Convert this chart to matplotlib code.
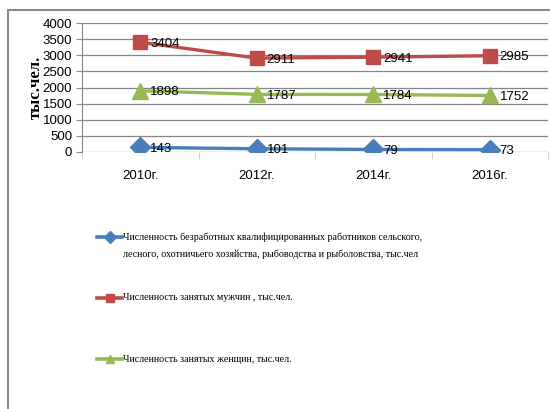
import matplotlib
matplotlib.use("Agg")
import matplotlib.pyplot as plt
from matplotlib.patches import Rectangle
from matplotlib.lines import Line2D
from matplotlib import font_manager
import numpy as np

# годы и значения рядов
years = ["2010г.", "2012г.", "2014г.", "2016г."]
unemployed = [143, 101, 79, 73]
men = [3404, 2911, 2941, 2985]
women = [1898, 1787, 1784, 1752]

labels = [
    "Численность безработных квалифицированных работников сельского,\n"
    "лесного, охотничьего хозяйства, рыбоводства и рыболовства, тыс.чел",
    "Численность занятых мужчин , тыс.чел.",
    "Численность занятых женщин, тыс.чел.",
]

blue = "#4a7ebb"
red = "#be4b48"
green = "#98b954"
grid_c = "#868686"

W, H = 550, 409

# узкий шрифт для подписей, если он есть
installed = {f.name for f in font_manager.fontManager.ttflist}
sans = ["Liberation Sans Narrow", "Liberation Sans", "DejaVu Sans"]
sans = [f for f in sans if f in installed] or ["DejaVu Sans"]
serif = ["Liberation Serif", "DejaVu Serif"]

plt.rcParams["font.family"] = sans

fig = plt.figure(figsize=(W / 100, H / 100), dpi=100)
ax = fig.add_axes([82 / W, 257 / H, 466 / W, 129 / H])

# рамка диаграммы
fig.patches.append(Rectangle((8 / W, -0.1), 1.2, 1.1 - 10 / H, transform=fig.transFigure,
                             fill=False, edgecolor="#8a8a8a", linewidth=1.5, zorder=0))

x = np.arange(len(years))
series = [
    (unemployed, blue, "D", 10),
    (men, red, "s", 10),
    (women, green, "^", 11),
]
handles = []
for vals, col, mk, ms in series:
    h, = ax.plot(x, vals, color=col, lw=2.4, marker=mk, markersize=ms, zorder=3)
    handles.append(h)
    for xi, v in zip(x, vals):
        ax.annotate(str(v), (xi, v), xytext=(7, -1), textcoords="offset points",
                    ha="left", va="center", fontsize=9.5, color="black", zorder=4)

ax.set_ylim(0, 4000)
ax.set_xlim(-0.5, 3.5)
ax.set_yticks(np.arange(0, 4001, 500))
ax.yaxis.grid(True, color=grid_c, lw=0.9)
ax.set_axisbelow(True)
for s in ["top", "right", "bottom"]:
    ax.spines[s].set_visible(False)
ax.spines["left"].set_color(grid_c)
ax.tick_params(axis="y", length=4, color=grid_c, labelsize=9.5, pad=3)

ax.set_xticks(x)
ax.set_xticklabels(years)
ax.set_xticks(np.arange(-0.5, 4, 1), minor=True)
ax.tick_params(axis="x", which="major", length=0, labelsize=9.5, pad=13)
ax.tick_params(axis="x", which="minor", length=5, color="#c8c8c8")

ax.set_ylabel("тыс.чел.", fontsize=12, fontweight="bold", family=serif, labelpad=-1)

# легенда под графиком
leg_y = [237, 298, 359]
for h, lab, yy in zip(handles, labels, leg_y):
    fy = 1 - yy / H
    fig.add_artist(Line2D([97 / W, 109.5 / W, 122 / W], [fy, fy, fy],
                          transform=fig.transFigure, color=h.get_color(), lw=2.6,
                          marker=h.get_marker(), markevery=[1], markersize=6))
    for k, line in enumerate(lab.split("\n")):
        fig.text(123 / W, fy - 17 * k / H, line, ha="left", va="center",
                 fontsize=7.2, family=serif)

fig.savefig("out.png", dpi=100)
